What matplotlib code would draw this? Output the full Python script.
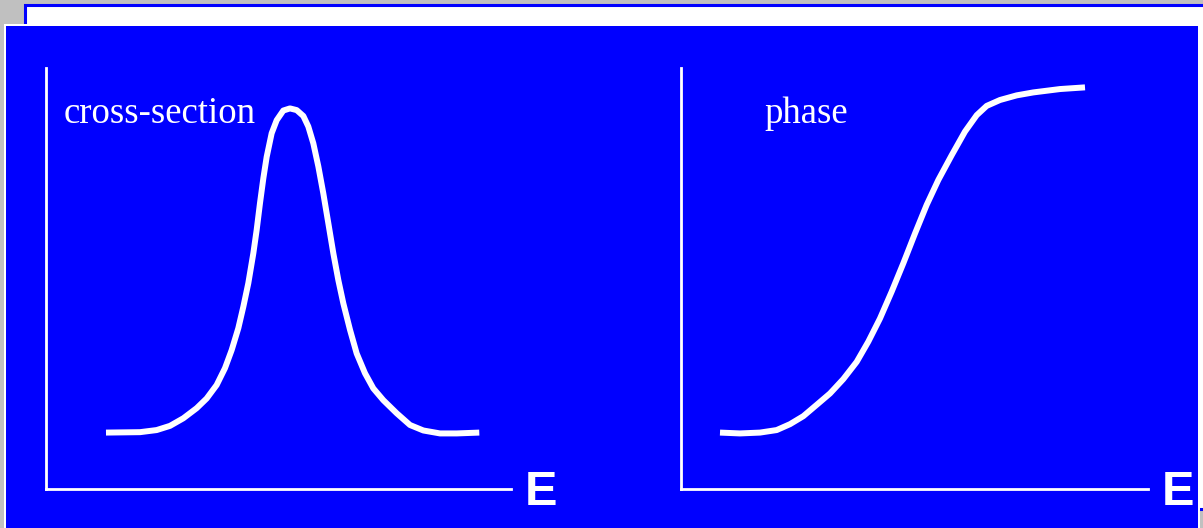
import matplotlib
matplotlib.use("Agg")
import matplotlib.pyplot as plt
from matplotlib.patches import Rectangle

# cross-section curve (energy in arbitrary units, height as fraction of axis)
cs_energy = [1.290, 2.022, 2.380, 2.667, 2.953, 3.240, 3.455, 3.670, 3.849, 3.993,
             4.136, 4.244, 4.351, 4.459, 4.530, 4.602, 4.674, 4.746, 4.853, 4.961,
             5.104, 5.247, 5.391, 5.534, 5.641, 5.749, 5.857, 5.964, 6.072, 6.179,
             6.287, 6.394, 6.538, 6.681, 6.860, 7.039, 7.254, 7.541, 7.828, 8.115,
             8.473, 8.832, 9.318]
cs_value = [0.134, 0.135, 0.140, 0.150, 0.168, 0.192, 0.215, 0.247, 0.287, 0.330,
            0.382, 0.433, 0.489, 0.560, 0.615, 0.679, 0.738, 0.789, 0.845, 0.876,
            0.899, 0.904, 0.900, 0.886, 0.861, 0.821, 0.766, 0.702, 0.631, 0.560,
            0.496, 0.441, 0.378, 0.322, 0.275, 0.239, 0.211, 0.180, 0.152, 0.139,
            0.132, 0.132, 0.134]

# phase curve
ph_energy = [0.835, 1.263, 1.692, 2.049, 2.334, 2.619, 2.906, 3.191, 3.475, 3.762,
             4.011, 4.261, 4.512, 4.760, 5.011, 5.261, 5.510, 5.797, 6.081, 6.332,
             6.546, 6.831, 7.188, 7.544, 8.116, 8.651]
ph_value = [0.134, 0.132, 0.134, 0.140, 0.154, 0.173, 0.200, 0.227, 0.261, 0.302,
            0.350, 0.405, 0.469, 0.536, 0.607, 0.675, 0.734, 0.793, 0.849, 0.888,
            0.910, 0.924, 0.935, 0.942, 0.950, 0.954]

panel_labels = ["cross-section", "phase"]
axis_label = "E"

W, H = 1203, 528
BLUE = "#0000ff"

fig = plt.figure(figsize=(W / 100, H / 100), dpi=100, facecolor="#c0c0c0")

# slide background (pixel coordinates)
bg = fig.add_axes([0, 0, 1, 1])
bg.set_xlim(0, W)
bg.set_ylim(H, 0)
bg.axis("off")
bg.add_patch(Rectangle((24.5, 4.5), 1190, 504, facecolor="white", edgecolor=BLUE, linewidth=2.2))
bg.add_patch(Rectangle((4, 23.5), 1196, 510, facecolor="white", edgecolor="none"))
bg.add_patch(Rectangle((6, 25.5), 1192, 510, facecolor=BLUE, edgecolor="none"))


def panel(rect, x, y, label, label_x):
    ax = fig.add_axes([rect[0] / W, (H - rect[1] - rect[3]) / H, rect[2] / W, rect[3] / H])
    ax.set_facecolor("none")
    ax.set_xlim(0, 10)
    ax.set_ylim(0, 1)
    for s in ["top", "right"]:
        ax.spines[s].set_visible(False)
    for s in ["left", "bottom"]:
        ax.spines[s].set_color("white")
        ax.spines[s].set_linewidth(2.0)
    ax.set_xticks([])
    ax.set_yticks([])
    ax.plot(x, y, color="white", linewidth=4.3, solid_capstyle="butt",
            solid_joinstyle="round", clip_on=False)
    ax.text(label_x, 0.869, label, transform=ax.transAxes, color="white",
            fontsize=26.5, family="Liberation Serif", va="baseline", ha="left")
    ax.text(1 + 14 / rect[2], -16 / rect[3], axis_label, transform=ax.transAxes,
            color="white", fontsize=35, family="Liberation Sans", weight="bold",
            va="baseline", ha="left")
    return ax


panel((46, 68, 465, 421), cs_energy, cs_value, panel_labels[0], 18 / 465)
panel((681, 68, 467, 421), ph_energy, ph_value, panel_labels[1], 83 / 467)

fig.savefig("out.png", dpi=100, facecolor=fig.get_facecolor())
